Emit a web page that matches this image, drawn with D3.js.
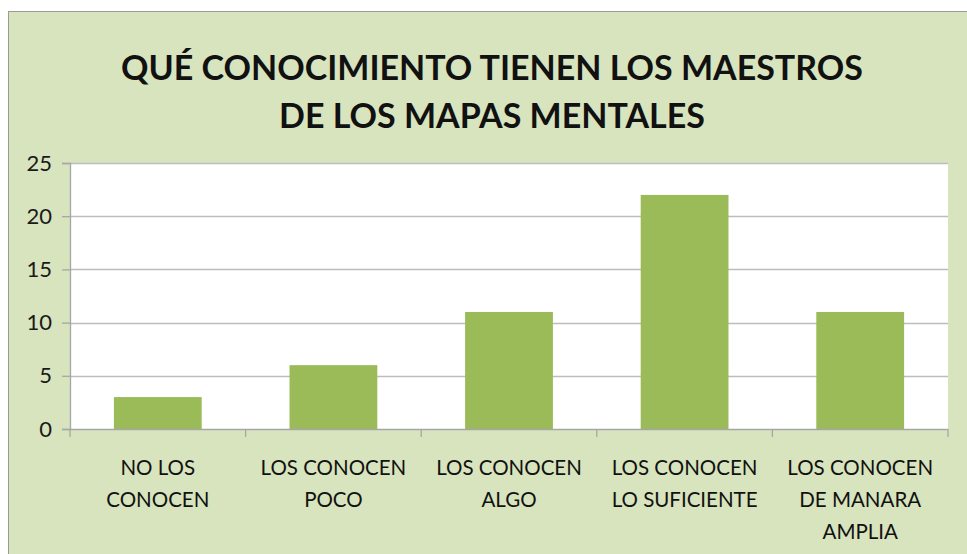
<!DOCTYPE html>
<html>
<head>
<meta charset="utf-8">
<script src="https://cdn.jsdelivr.net/npm/d3@7"></script>
<style>
  body { margin: 0; background: #fff; }
  text { font-family: Lato, "Open Sans", sans-serif; fill: #1a1a1a; }
</style>
</head>
<body>
<div id="chart"></div>
<script>
const categories = [
  ["NO LOS", "CONOCEN"],
  ["LOS CONOCEN", "POCO"],
  ["LOS CONOCEN", "ALGO"],
  ["LOS CONOCEN", "LO SUFICIENTE"],
  ["LOS CONOCEN", "DE MANARA", "AMPLIA"]
];
const values = [3, 6, 11, 22, 11];
const yTicks = [0, 5, 10, 15, 20, 25];
const titleLines = ["QUÉ CONOCIMIENTO TIENEN LOS MAESTROS", "DE LOS MAPAS MENTALES"];

const width = 967, height = 554;
const plot = {left: 70, right: 948, top: 163, bottom: 429};

const svg = d3.select("#chart")
    .append("svg")
    .attr("width", width)
    .attr("height", height);

svg.append("rect")
    .attr("x", 8.5).attr("y", 11.5)
    .attr("width", width).attr("height", height)
    .attr("fill", "#d7e4bd")
    .attr("stroke", "#9a9a9a");

svg.append("rect")
    .attr("x", plot.left).attr("y", plot.top)
    .attr("width", plot.right - plot.left)
    .attr("height", plot.bottom - plot.top)
    .attr("fill", "#fff");

const x = d3.scaleBand()
    .domain(d3.range(categories.length))
    .range([plot.left, plot.right])
    .paddingInner(0.5)
    .paddingOuter(0.25);

const y = d3.scaleLinear()
    .domain([0, 25])
    .range([plot.bottom, plot.top]);

// gridlines
svg.append("g")
    .selectAll("line")
    .data(yTicks.filter(d => d > 0))
    .enter()
    .append("line")
    .attr("x1", plot.left).attr("x2", plot.right)
    .attr("y1", d => Math.round(y(d)) + 0.5)
    .attr("y2", d => Math.round(y(d)) + 0.5)
    .attr("stroke", "#bdbdbd")
    .attr("stroke-width", 1.3);

// bars
svg.append("g")
    .selectAll("rect")
    .data(values)
    .enter()
    .append("rect")
    .attr("x", (d, i) => x(i))
    .attr("y", d => y(d))
    .attr("width", x.bandwidth())
    .attr("height", d => plot.bottom - y(d))
    .attr("fill", "#9bbb59");

// y axis
const yAxis = svg.append("g")
    .attr("transform", `translate(${plot.left},0)`)
    .call(d3.axisLeft(y).tickValues(yTicks).tickSize(8).tickPadding(10));
yAxis.select(".domain").attr("stroke", "#a6a6a6").attr("stroke-width", 1.3);
yAxis.selectAll(".tick line").attr("stroke", "#a6a6a6").attr("stroke-width", 1.3);
yAxis.selectAll("text")
    .style("font-size", "22px")
    .attr("fill", "#111");

// x axis
const bounds = d3.range(categories.length + 1).map(i => plot.left + i * (plot.right - plot.left) / categories.length);
const xAxis = svg.append("g");
xAxis.append("line")
    .attr("x1", plot.left).attr("x2", plot.right)
    .attr("y1", plot.bottom + 0.5).attr("y2", plot.bottom + 0.5)
    .attr("stroke", "#a6a6a6").attr("stroke-width", 1.3);
xAxis.selectAll(".tk")
    .data(bounds)
    .enter()
    .append("line")
    .attr("x1", d => d).attr("x2", d => d)
    .attr("y1", plot.bottom).attr("y2", plot.bottom + 8)
    .attr("stroke", "#a6a6a6").attr("stroke-width", 1.3);

xAxis.selectAll(".lbl")
    .data(categories)
    .enter()
    .append("text")
    .attr("text-anchor", "middle")
    .style("font-size", "20.5px")
    .style("fill", "#111")
    .each(function(d, i) {
        d3.select(this).selectAll("tspan")
            .data(d)
            .enter()
            .append("tspan")
            .attr("x", x(i) + x.bandwidth() / 2)
            .attr("y", (t, j) => 475 + j * 32)
            .text(t => t);
    });

// title
svg.append("g")
    .selectAll("text")
    .data(titleLines)
    .enter()
    .append("text")
    .attr("x", 492)
    .attr("y", (d, i) => 80 + i * 48)
    .attr("text-anchor", "middle")
    .style("font-size", "34px")
    .style("font-weight", "bold")
    .style("fill", "#111")
    .text(d => d);
</script>
</body>
</html>
